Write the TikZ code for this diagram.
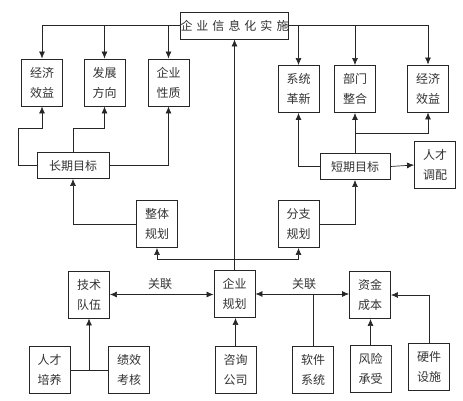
\documentclass[tikz,border=0pt]{standalone}
\usepackage{fontspec}
\newfontfamily\cjk{Noto Sans CJK SC}
\usetikzlibrary{arrows.meta}
\begin{document}
\begin{tikzpicture}[x=1pt,y=-1pt,
 bx/.style={draw=black!85, line width=0.9pt, fill=white, minimum width=41pt, minimum height=47pt, inner sep=0pt, align=center, font=\cjk\fontsize{12}{20}\selectfont, text=black!80},
 wbx/.style={bx, minimum width=72pt, minimum height=26pt},
 ln/.style={draw=black!85, line width=0.7pt},
 ar/.style={ln, -{Latex[length=7pt,width=6pt]}},
 dar/.style={ln, {Latex[length=7pt,width=6pt]}-{Latex[length=7pt,width=6pt]}},
 lbl/.style={font=\cjk\fontsize{12}{14}\selectfont, text=black!80}]
\useasboundingbox (0,0) rectangle (463,401);
% nodes
\node[bx, minimum width=102pt, minimum height=27pt] (top) at (234.5,25.5) {企\hspace{4pt}业\hspace{4pt}信\hspace{4pt}息\hspace{4pt}化\hspace{4pt}实\hspace{4pt}施};
\node[bx] (A1) at (42,82.5) {经济\\效益};
\node[bx] (A2) at (104.5,82.5) {发展\\方向};
\node[bx] (A3) at (168.5,82.5) {企业\\性质};
\node[bx] (B1) at (298.5,89) {系统\\革新};
\node[bx] (B2) at (355,89) {部门\\整合};
\node[bx] (B3) at (428,88.5) {经济\\效益};
\node[wbx] (L) at (73,165.5) {长期目标};
\node[wbx, minimum width=70pt] (S) at (355,166.5) {短期目标};
\node[bx] (R) at (435,165) {人才\\调配};
\node[bx] (Z) at (157,224) {整体\\规划};
\node[bx] (F) at (298.5,224) {分支\\规划};
\node[bx] (T) at (89,294.5) {技术\\队伍};
\node[bx] (Q) at (234.5,294) {企业\\规划};
\node[bx] (C) at (370,295) {资金\\成本};
\node[bx] (PY) at (49.5,370) {人才\\培养};
\node[bx] (JX) at (129,370) {绩效\\考核};
\node[bx] (ZX) at (235.5,369.5) {咨询\\公司};
\node[bx] (SW) at (313,369.5) {软件\\系统};
\node[bx] (RS) at (370.5,369) {风险\\承受};
\node[bx] (HW) at (429,366.5) {硬件\\设施};
\node[lbl] (g1) at (160,284) {关联};
\node[lbl] (g2) at (304,284) {关联};
% coordinates
\coordinate (k1) at (18,128);
\coordinate (k2) at (104.5,128);
\coordinate (k3) at (355,133);
\coordinate (j) at (234.5,259);
% top fan-out
\draw[ar] (top.west) -| (A1.north);
\draw[ar] (A2.north |- top.west) -- (A2.north);
\draw[ar] (A3.north |- top.west) -- (A3.north);
\draw[ar] (top.east) -| (B3.north);
\draw[ar] (B1.north |- top.east) -- (B1.north);
\draw[ar] (B2.north |- top.east) -- (B2.north);
% long-term
\draw[ar] (L.west) -| (k1) -| (A1.south);
\draw[ar] (L.north) |- (k2) -- (A2.south);
\draw[ar] (L.east) -| (A3.south);
% short-term
\draw[ar] (S.west) -| (B1.south);
\draw[ar] (S.north) -- (B2.south);
\draw[ar] (k3) -| (B3.south);
\draw[ar] (S.east) -- (R.west);
% planning
\draw[ar] (Q.north) -- (top.south);
\draw[ar] (j) -| (Z.south);
\draw[ar] (j) -| (F.south);
\draw[ar] (Z.west) -| (L.south);
\draw[ar] (F.east) -| (S.south);
% bottom
\draw[dar] (T.east) -- (T.east -| Q.west);
\draw[dar] (Q.east) -- (Q.east -| C.west);
\draw[ln] (SW.north) -- (SW.north |- Q.east);
\draw[ar] (RS.north) -- (RS.north |- C.south);
\draw[ar] (HW.north) |- (C.east);
\draw[ar] (ZX.north) -- (ZX.north |- Q.south);
\draw[ln] (PY.east) -- (JX.west);
\draw[ar] (PY.east -| T.south) -- (T.south);
\end{tikzpicture}
\end{document}
